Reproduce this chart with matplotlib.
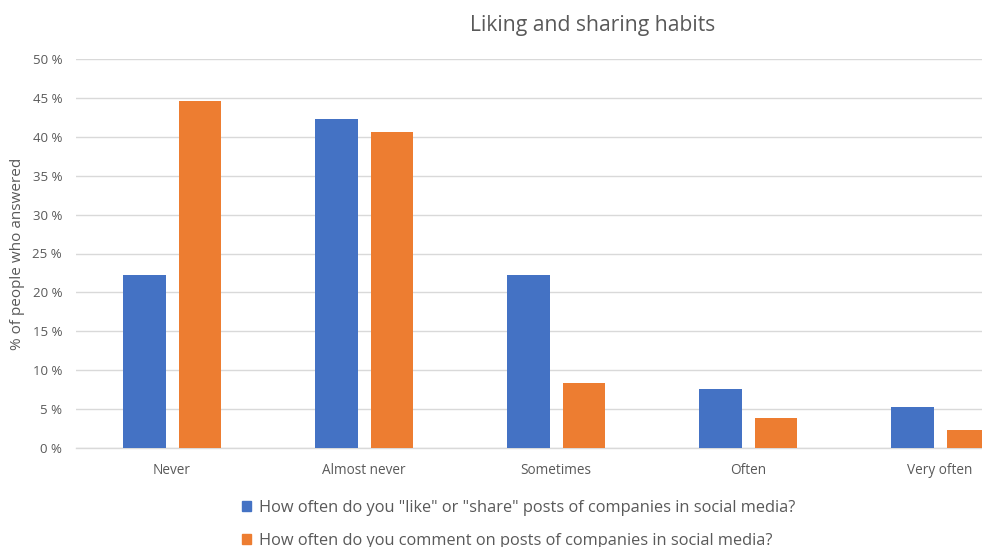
import matplotlib
matplotlib.use("Agg")
import matplotlib.pyplot as plt
import numpy as np
from matplotlib.patches import Patch

categories = ["Never", "Almost never", "Sometimes", "Often", "Very often"]
like_share = [22.3, 42.3, 22.3, 7.6, 5.3]
comment = [44.6, 40.6, 8.4, 3.8, 2.3]
series_names = ['How often do you "like" or "share" posts of companies in social media?',
                'How often do you comment on posts of companies in social media?']
yticks = [0, 5, 10, 15, 20, 25, 30, 35, 40, 45, 50]

plt.rcParams['font.family'] = ['Open Sans', 'DejaVu Sans']
blue = "#4472C4"
orange = "#ED7D31"
gray = "#595959"

fig = plt.figure(figsize=(9.82, 5.47), dpi=100)
ax = fig.add_axes([76/982, 99/547, 960/982, 389/547])
x = np.arange(len(categories))
w = 0.222
ax.bar(x - 0.142, like_share, w, color=blue, zorder=3)
ax.bar(x + 0.145, comment, w, color=orange, zorder=3)
ax.set_xlim(-0.5, len(categories) - 0.5)
ax.set_ylim(0, 50)
ax.set_yticks(yticks)
ax.set_yticklabels([f"{v} %" for v in yticks])
ax.set_xticks(x)
ax.set_xticklabels(categories)
ax.grid(axis='y', color="#D9D9D9", linewidth=1, zorder=0)
for s in ['top', 'right', 'left']:
    ax.spines[s].set_visible(False)
ax.spines['bottom'].set_color("#D9D9D9")
ax.spines['bottom'].set_linewidth(1)
ax.tick_params(axis='both', length=0, colors=gray, labelsize=9.5)
ax.tick_params(axis='x', labelsize=9.8, pad=11)
ax.tick_params(axis='y', pad=10)
fig.text(18/982, 1 - 254/547, "% of people who answered", rotation=90, ha='center', va='center',
         color=gray, fontsize=11)
fig.text(593/982, 1 - 25/547, "Liking and sharing habits", ha='center', va='center',
         color=gray, fontsize=15.2)
handles = [Patch(color=blue), Patch(color=orange)]
leg = fig.legend(handles, series_names, loc='upper left', bbox_to_anchor=(227/982, 1 - 485/547),
                 frameon=False, fontsize=11.8, handlelength=0.55, handleheight=0.55,
                 handletextpad=0.5, labelspacing=1.05, labelcolor=gray)
fig.savefig("out.png", dpi=100)
